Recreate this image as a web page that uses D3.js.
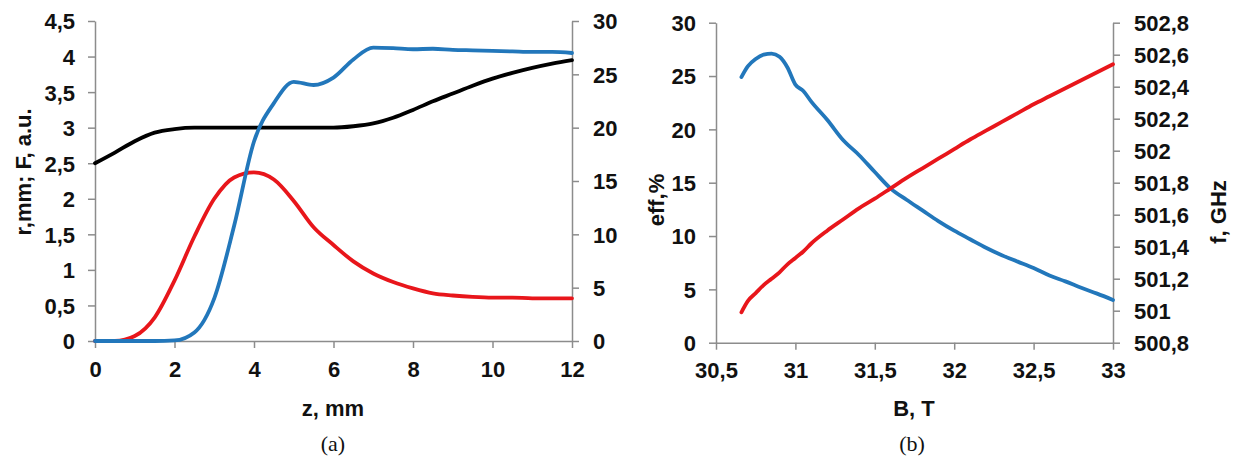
<!DOCTYPE html>
<html>
<head>
<meta charset="utf-8">
<script src="https://cdn.jsdelivr.net/npm/d3@7"></script>
<style>
  body { margin: 0; background: #fff; }
  text { font-family: "Liberation Sans", Arial, sans-serif; }
</style>
</head>
<body>
<div id="chart"></div>
<script>
// (a) profile along z
var zVals = [0,0.5,1,1.5,2,2.5,3,3.5,4,4.5,5,5.5,6,6.5,7,7.5,8,8.5,9,9.5,10,10.5,11,11.5,12];
var rVals = [2.5,2.65,2.81,2.93,2.98,3.0,3.0,3.0,3.0,3.0,3.0,3.0,3.0,3.02,3.06,3.14,3.25,3.37,3.48,3.59,3.69,3.77,3.84,3.9,3.95];
var fVals = [0,0,0.07,0.33,0.85,1.47,2.0,2.3,2.37,2.27,1.97,1.6,1.35,1.12,0.95,0.83,0.74,0.67,0.64,0.62,0.61,0.61,0.6,0.6,0.6];
var effZ  = [0,0,0,0,0.05,0.8,4.0,10.8,18.7,22.3,24.3,24.0,24.7,26.4,27.5,27.45,27.35,27.4,27.3,27.25,27.2,27.15,27.1,27.1,27.0];

// (b) vs magnetic field
var bVals = [30.66,30.7,30.75,30.8,30.85,30.9,30.95,31.0,31.05,31.1,31.2,31.3,31.4,31.5,31.6,31.7,31.8,31.9,32.0,32.1,32.2,32.3,32.4,32.5,32.6,32.7,32.8,32.9,33.0];
var effB  = [24.9,25.9,26.6,27.0,27.1,26.8,25.8,24.2,23.6,22.6,20.9,19.0,17.6,16.0,14.45,13.4,12.4,11.4,10.5,9.7,8.9,8.2,7.6,7.0,6.3,5.75,5.15,4.6,4.0];
var freqB = [500.99,501.06,501.11,501.16,501.2,501.24,501.29,501.33,501.37,501.42,501.5,501.57,501.64,501.7,501.765,501.83,501.89,501.95,502.01,502.07,502.125,502.18,502.235,502.29,502.34,502.39,502.44,502.49,502.54];

var ticksZ = [0,2,4,6,8,10,12];
var ticksR = [0,0.5,1,1.5,2,2.5,3,3.5,4,4.5];
var ticksEffA = [0,5,10,15,20,25,30];
var ticksB = [30.5,31,31.5,32,32.5,33];
var ticksEffB = [0,5,10,15,20,25,30];
var ticksFreq = [500.8,501,501.2,501.4,501.6,501.8,502,502.2,502.4,502.6,502.8];

var W = 1235, H = 459;
var axisColor = "#8c8c8c";
var blue = "#2277bb", red = "#e8161b";
var fontSize = "22px";

var svg = d3.select("#chart").append("svg")
    .attr("width", W)
    .attr("height", H);

function comma(d) { return String(d).replace(".", ","); }

function styleAxis(g) {
    g.selectAll(".domain").attr("stroke", axisColor).attr("stroke-width", 1.5);
    g.selectAll(".tick line").attr("stroke", axisColor).attr("stroke-width", 1.5);
    g.selectAll(".tick text")
        .attr("fill", "#111")
        .style("font-size", fontSize)
        .style("font-weight", "bold")
        .style("font-family", "'Liberation Sans', Arial, sans-serif");
}

function panel(opt) {
    var x = d3.scaleLinear().domain(opt.xDomain).range(opt.xRange);
    var yL = d3.scaleLinear().domain(opt.yLDomain).range(opt.yRange);
    var yR = d3.scaleLinear().domain(opt.yRDomain).range(opt.yRange);

    var gx = svg.append("g")
        .attr("transform", "translate(0," + opt.yRange[0] + ")")
        .call(d3.axisBottom(x).tickValues(opt.xTicks).tickFormat(comma).tickSize(7).tickSizeOuter(0).tickPadding(13));
    styleAxis(gx);

    var gl = svg.append("g")
        .attr("transform", "translate(" + opt.xRange[0] + ",0)")
        .call(d3.axisLeft(yL).tickValues(opt.yLTicks).tickFormat(comma).tickSize(7).tickSizeOuter(0).tickPadding(13));
    styleAxis(gl);
    gl.selectAll(".tick text").attr("dy", "0.36em");

    var gr = svg.append("g")
        .attr("transform", "translate(" + opt.xRange[1] + ",0)")
        .call(d3.axisRight(yR).tickValues(opt.yRTicks).tickFormat(comma).tickSize(7).tickSizeOuter(0).tickPadding(14));
    styleAxis(gr);
    gr.selectAll(".tick text").attr("dy", "0.36em");

    opt.series.forEach(function(s) {
        var y = s.axis === "left" ? yL : yR;
        var line = d3.line()
            .x(function(d, i) { return x(opt.xs[i]); })
            .y(function(d) { return y(d); })
            .curve(d3.curveMonotoneX);
        svg.append("path")
            .datum(s.values)
            .attr("fill", "none")
            .attr("stroke", s.color)
            .attr("stroke-width", 3.8)
            .attr("stroke-linejoin", "round")
            .attr("stroke-linecap", "round")
            .attr("d", line);
    });
}

panel({
    xDomain: [0, 12], xRange: [95, 572],
    yLDomain: [0, 4.5], yRDomain: [0, 30], yRange: [341, 21],
    xTicks: ticksZ, yLTicks: ticksR, yRTicks: ticksEffA,
    xs: zVals,
    series: [
        {values: rVals, axis: "left", color: "#000"},
        {values: fVals, axis: "left", color: red},
        {values: effZ, axis: "right", color: blue}
    ]
});

panel({
    xDomain: [30.5, 33], xRange: [716, 1113],
    yLDomain: [0, 30], yRDomain: [500.8, 502.8], yRange: [342.7, 22.7],
    xTicks: ticksB, yLTicks: ticksEffB, yRTicks: ticksFreq,
    xs: bVals,
    series: [
        {values: effB, axis: "left", color: blue},
        {values: freqB, axis: "right", color: red}
    ]
});

// axis titles
function title(txt, x, y, rot) {
    svg.append("text")
        .attr("transform", "translate(" + x + "," + y + ")" + (rot ? " rotate(-90)" : ""))
        .attr("text-anchor", "middle")
        .attr("fill", "#111")
        .style("font-size", fontSize)
        .style("font-weight", "bold")
        .text(txt);
}
title("z, mm", 333, 416, false);
title("B, T", 914, 416, false);
title("r,mm; F, a.u.", 31, 172, true);
title("eff,%", 664, 200, true);
title("f, GHz", 1226, 212, true);

// panel captions
[["(a)", 333], ["(b)", 912]].forEach(function(c) {
    svg.append("text")
        .attr("x", c[1]).attr("y", 451)
        .attr("text-anchor", "middle")
        .style("font-family", "'Liberation Serif', 'Times New Roman', serif")
        .style("font-size", "22px")
        .attr("fill", "#111")
        .text(c[0]);
});
</script>
</body>
</html>
